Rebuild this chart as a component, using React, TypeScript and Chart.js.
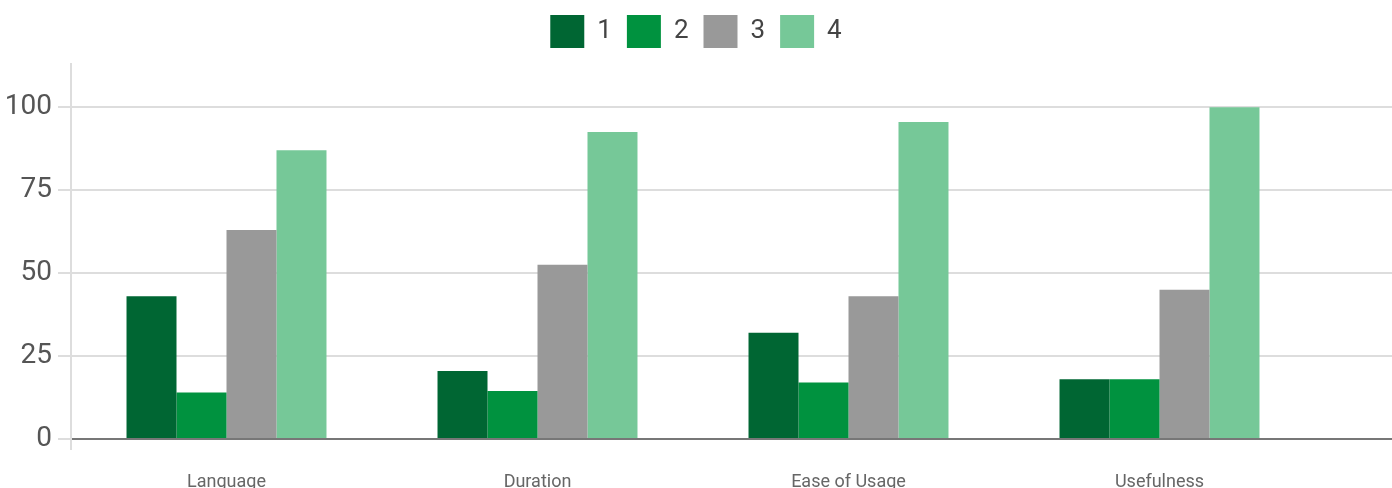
import React, { useEffect, useRef } from "react";
import { Chart, registerables } from "chart.js";

Chart.register(...registerables);

const categories = ["Language", "Duration", "Ease of Usage", "Usefulness"];
const seriesNames = ["1", "2", "3", "4"];
const series1 = [43, 20.5, 32, 18];
const series2 = [14, 14.5, 17, 18];
const series3 = [63, 52.5, 43, 45];
const series4 = [87, 92.5, 95.5, 100];
const yTicks = [0, 25, 50, 75, 100];
const yMax = 113;

const colors = ["#006633", "#00923f", "#999999", "#76c898"];

const extendGrid = {
  id: "extendGrid",
  beforeLayout(chart: any) {
    const lg = chart.legend;
    if (lg && !lg._patched) {
      const orig = lg.fit;
      lg.fit = function (this: any) {
        orig.call(this);
        this.height = 64;
      };
      lg._patched = true;
    }
  },
  afterDraw(chart: any) {
    const { ctx, chartArea } = chart;
    const y = chart.scales.y;
    ctx.save();
    ctx.lineWidth = 2;
    y.ticks.forEach((t: any) => {
      const py = Math.round(y.getPixelForValue(t.value));
      ctx.strokeStyle = t.value === 0 ? "#777777" : "#dddddd";
      ctx.beginPath();
      ctx.moveTo(chartArea.right, py);
      ctx.lineTo(chart.width, py);
      ctx.stroke();
    });
    ctx.restore();
  },
};

export default function App() {
  const ref = useRef<HTMLCanvasElement>(null);
  useEffect(() => {
    document.body.style.margin = "0";
    const seriesData = [series1, series2, series3, series4];
    const chart = new Chart(ref.current!, {
      type: "bar",
      data: {
        labels: categories,
        datasets: seriesNames.map((n, i) => ({
          label: n,
          data: seriesData[i],
          backgroundColor: colors[i],
          borderWidth: 0,
          barPercentage: 1,
          categoryPercentage: 0.643,
        })),
      },
      options: {
        responsive: false,
        animation: false,
        layout: { padding: 0 },
        plugins: {
          tooltip: { enabled: false },
          legend: {
            position: "top",
            labels: {
              boxWidth: 34,
              boxHeight: 33,
              padding: 15,
              color: "#444444",
              font: { family: "Roboto", size: 26 },
            },
          },
        },
        scales: {
          x: {
            grid: {
              display: true,
              drawOnChartArea: false,
              tickLength: 11,
              lineWidth: 2,
              color: (c: any) => (c.index === 0 ? "#dddddd" : "rgba(0,0,0,0)"),
            },
            border: { display: true, color: "#777777", width: 2 },
            ticks: {
              color: "#666666",
              font: { family: "Roboto", size: 18 },
              padding: 22,
            },
            afterFit: (s: any) => {
              s.height = 61;
            },
          },
          y: {
            min: 0,
            max: yMax,
            afterBuildTicks: (s: any) => {
              s.ticks = yTicks.map((v) => ({ value: v }));
            },
            grid: {
              color: "#dddddd",
              lineWidth: 2,
              tickLength: 13,
            },
            border: { display: true, color: "#dddddd", width: 2 },
            ticks: {
              color: "#555555",
              font: { family: "Roboto", size: 28 },
              padding: 6,
            },
            afterFit: (s: any) => {
              s.width = 71;
            },
          },
          yRight: {
            position: "right",
            display: true,
            grid: { display: false },
            border: { display: false },
            ticks: { display: false },
            afterFit: (s: any) => {
              s.width = 77;
            },
          },
        },
      },
      plugins: [extendGrid],
    });
    return () => chart.destroy();
  }, []);
  return (
    <div style={{ position: "fixed", left: 0, top: 0, width: 1392, height: 488, overflow: "hidden", background: "#fff" }}>
      <canvas ref={ref} width={1392} height={500} />
    </div>
  );
}
